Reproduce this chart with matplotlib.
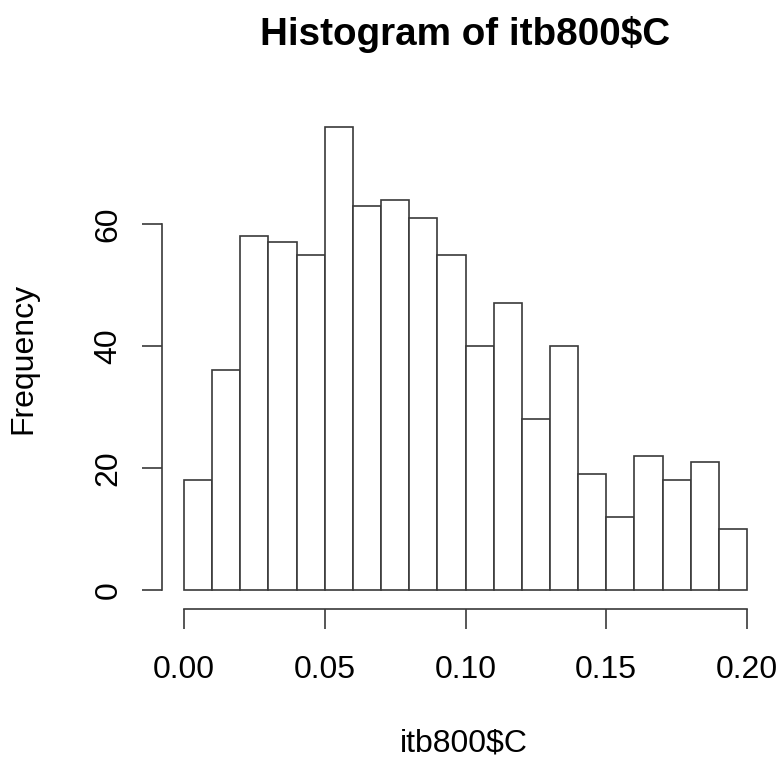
import matplotlib
matplotlib.use('Agg')
import matplotlib.pyplot as plt
import numpy as np

# bin edges and counts
bin_edges = [round(0.01 * i, 2) for i in range(21)]
counts = [18, 36, 58, 57, 55, 76, 63, 64, 61, 55,
          40, 47, 28, 40, 19, 12, 22, 18, 21, 10]
x_ticks = [0.00, 0.05, 0.10, 0.15, 0.20]
x_tick_labels = ['0.00', '0.05', '0.10', '0.15', '0.20']
y_ticks = [0, 20, 40, 60]

plt.rcParams['font.family'] = ['Liberation Sans', 'DejaVu Sans']
line_color = '#3a3a3a'

fig = plt.figure(figsize=(7.79, 7.6), dpi=100)
ax = fig.add_axes([161.5 / 779, 1 - 608.5 / 760, 608 / 779, 500.5 / 760])

lefts = bin_edges[:-1]
widths = np.diff(bin_edges)
ax.bar(lefts, counts, width=widths, align='edge', color='white',
       edgecolor=line_color, linewidth=1.2)

# R style: extend range by 4%
xr = bin_edges[-1] - bin_edges[0]
ax.set_xlim(bin_edges[0] - 0.04 * xr, bin_edges[-1] + 0.04 * xr)
ymax = max(counts)
ax.set_ylim(-0.04 * ymax, ymax * 1.04)

for s in ['top', 'right']:
    ax.spines[s].set_visible(False)
ax.spines['left'].set_bounds(y_ticks[0], y_ticks[-1])
ax.spines['bottom'].set_bounds(x_ticks[0], x_ticks[-1])
for s in ['left', 'bottom']:
    ax.spines[s].set_color(line_color)
    ax.spines[s].set_linewidth(1.2)

ax.set_xticks(x_ticks)
ax.set_xticklabels(x_tick_labels)
ax.set_yticks(y_ticks)
ax.set_yticklabels([str(v) for v in y_ticks], rotation=90, va='center')
ax.tick_params(axis='both', length=14.4, width=1.2, color=line_color,
               labelsize=23, labelcolor='black')
ax.tick_params(axis='x', pad=19)
ax.tick_params(axis='y', pad=13)

fig.text(464 / 779, 1 - 752 / 760, 'itb800$C', ha='center', va='baseline',
         fontsize=23)
fig.text(23 / 779, 1 - 358 / 760, 'Frequency', ha='center', va='center',
         rotation=90, fontsize=23)
fig.text(465 / 779, 1 - 45 / 760, 'Histogram of itb800$C', ha='center',
         va='baseline', fontsize=27.8, fontweight='bold')

fig.savefig('out.png', dpi=100)
plt.close(fig)
